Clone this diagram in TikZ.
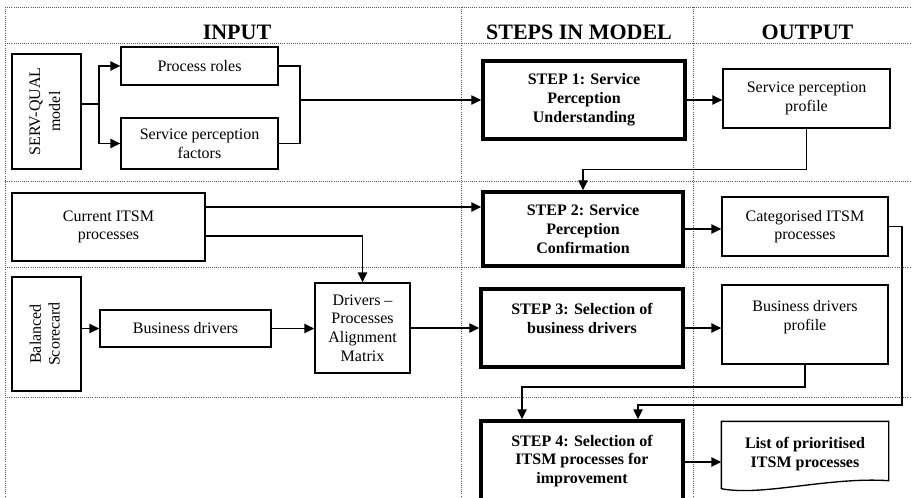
\documentclass[tikz,border=0pt]{standalone}
\usepackage{fontspec}
\setmainfont{Liberation Serif}
\usetikzlibrary{arrows.meta}

\tikzset{
  sz/.style 2 args={minimum width=#1*0.75pt, minimum height=#2*0.75pt},
  box/.style={draw, line width=1pt, inner sep=2pt, align=center, font=\fontsize{12}{14}\selectfont},
  stepbox/.style={box, line width=2.6pt, font=\fontsize{12}{14.2}\selectfont\bfseries},
  arr/.style={line width=1pt, -{Triangle[length=7.5pt,width=7pt]}},
  grid/.style={gray!70!black, line width=0.6pt, densely dotted},
  head/.style={font=\fontsize{16.5}{18}\selectfont\bfseries}
}

\begin{document}
\begin{tikzpicture}[x=0.75pt, y=-0.75pt]
\clip (0,0) rectangle (912,497);

% table lines
\foreach \y in {7,43,181,267,397}
    \draw[grid] (5,\y) -- (912,\y);
\foreach \x in {5,461,693}
    \draw[grid] (\x,7) -- (\x,497);

% column heads
\node[head] (hin) at (237,32) {INPUT};
\node[head] (hsteps) at (579,32) {STEPS IN MODEL};
\node[head] (hout) at (807.5,32) {OUTPUT};

% inputs
\node[box, sz={69}{115}] (serv) at (46.5,111.5) {\rotatebox{90}{\begin{tabular}{@{}c@{}}SERV-QUAL\\[1pt]model\end{tabular}}};
\node[box, sz={157}{38}] (roles) at (199.5,66) {Process roles};
\node[box, sz={157}{51}] (factors) at (199.5,143.5) {Service perception\\factors};
\node[box, sz={193}{68}] (itsm) at (108.5,227) {Current ITSM\\processes};
\node[box, sz={69}{114}] (bsc) at (46.5,334) {\rotatebox{90}{\begin{tabular}{@{}c@{}}Balanced\\Scorecard\end{tabular}}};
\node[box, sz={171}{37}] (drivers) at (185.5,328.5) {Business drivers};
\node[box, sz={95}{90}] (matrix) at (362.5,328) {Drivers --\\Processes\\Alignment\\Matrix};

% steps
\node[stepbox, sz={202}{78}] (step1) at (584,100) {STEP 1: Service\\Perception\\Understanding};
\node[stepbox, sz={200}{74}] (step2) at (583,229) {STEP 2: Service\\Perception\\Confirmation};
\node[stepbox, sz={202}{78}] (step3) at (582,328) {STEP 3: Selection of\\business drivers\\\mbox{}};
\node[stepbox, sz={202}{80}] (step4) at (582,461) {STEP 4: Selection of\\ITSM processes for\\improvement};

% outputs
\node[box, sz={167}{59}] (sprof) at (806.5,98.5) {Service perception\\profile};
\node[box, sz={166}{59}] (cat) at (805,226.5) {Categorised ITSM\\processes};
\node[box, sz={166}{79}] (bprof) at (805,324.5) {Business drivers\\profile\\\mbox{}};
\node[box, draw=none, sz={166}{64}, font=\fontsize{12}{14.2}\selectfont\bfseries] (list) at (805,454) {List of prioritised\\ITSM processes};
\draw[line width=1pt] (list.north west) -- (list.north east) -- ([yshift=4.5pt]list.south east)
    .. controls +(-45pt,3pt) and +(30pt,-6pt) .. ([yshift=-1.5pt]list.south west) -- cycle;

% connectors
\coordinate (jin) at (99,104);
\coordinate (jout) at (300,100);
\draw[line width=1pt] (jin -| serv.east) -- (jin);
\draw[arr] (jin) |- (roles.west);
\draw[arr] (jin) |- (factors.west);
\draw[line width=1pt] (roles.east) -| (jout);
\draw[line width=1pt] (factors.east) -| (jout);
\draw[arr] (jout) -- (jout -| step1.west);

\draw[arr] (step1.east) -- (step1.east -| sprof.west);
\draw[arr] (sprof.south) -- ++(0,41) -| (step2.north);

\draw[arr] (itsm.east |- 0,207) -- (step2.west |- 0,207);
\draw[arr] (itsm.east |- 0,236) -| (matrix.north);
\draw[arr] (bsc.east |- drivers.west) -- (drivers.west);
\draw[arr] (drivers.east) -- (drivers.east -| matrix.west);
\draw[arr] (matrix.east) -- (matrix.east -| step3.west);

\draw[arr] (step2.east) -- (step2.east -| cat.west);
\draw[arr] (step3.east) -- (step3.east -| bprof.west);
\draw[arr] (step4.east |- 0,462) -- (list.west |- 0,462);

\coordinate (down1) at (522,387);
\draw[arr] (bprof.south) |- (down1) -- (down1 |- step4.north);
\coordinate (down2) at (902,405);
\coordinate (down3) at (638,405);
\draw[arr] (cat.east) -| (down2) -- (down3) -- (down3 |- step4.north);
\end{tikzpicture}
\end{document}
